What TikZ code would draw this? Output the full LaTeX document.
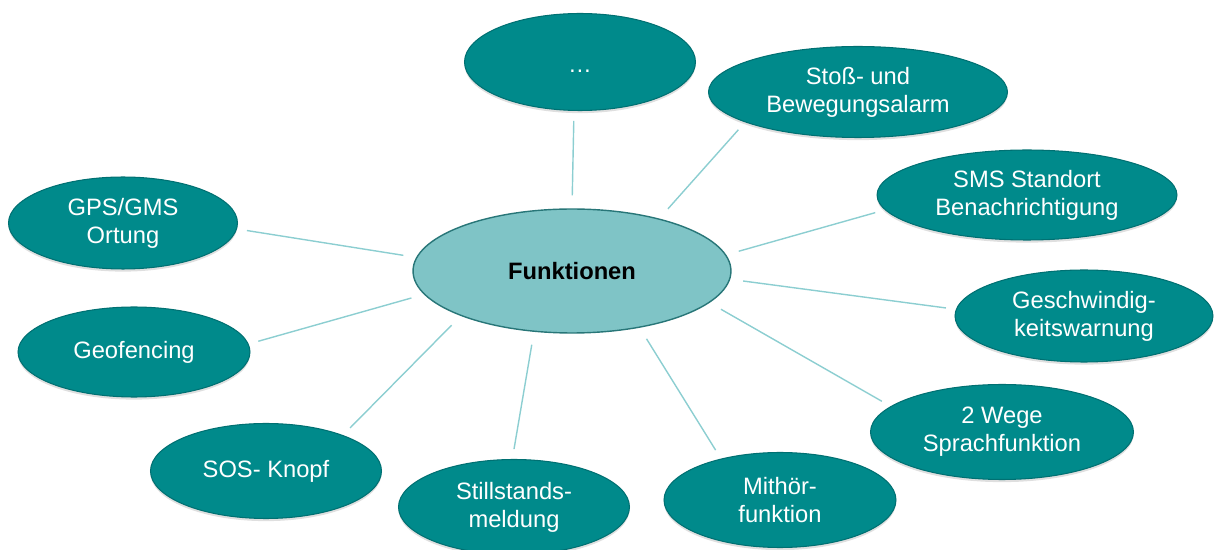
\documentclass[tikz,border=0pt]{standalone}
\usepackage{fontspec}
\setmainfont{Liberation Sans}
\definecolor{ftteal}{RGB}{0,138,139}
\definecolor{ftedge}{RGB}{0,112,114}
\definecolor{ftlight}{RGB}{127,196,198}
\definecolor{fthub}{RGB}{40,118,120}
\definecolor{ftline}{RGB}{140,206,209}
\usetikzlibrary{shapes.geometric,shadows}

\begin{document}
\begin{tikzpicture}[x=0.02cm,y=-0.02cm,
  func/.style={ellipse,draw=ftedge,line width=0.6pt,fill=ftteal,text=white,inner sep=0pt,
    minimum width=4.62cm,minimum height=1.9cm,align=center,
    font=\fontsize{13.5}{16}\selectfont,
    drop shadow={opacity=0.25,shadow xshift=0pt,shadow yshift=-1.5pt}},
  hub/.style={ellipse,draw=fthub,line width=0.8pt,fill=ftlight,inner sep=0pt,
    minimum width=6.36cm,minimum height=2.48cm,font=\fontsize{13.5}{16}\selectfont\bfseries},
  link/.style={draw=ftline,line width=0.8pt,shorten <=0.26cm,shorten >=0.2cm}
]
  \useasboundingbox (0,0) rectangle (1215,550);
  % Centre
  \node[hub] (fun) at (572,271) {Funktionen};
  % Functions, clockwise from the top
  \node[func,minimum height=1.94cm] (dots) at (580,62) {\strut\raisebox{-3pt}{…}};
  \node[func,minimum width=5.98cm,minimum height=1.82cm] (stoss) at (858,92) {Stoß- und\\Bewegungsalarm};
  \node[func,minimum width=6cm,minimum height=1.8cm] (sms) at (1027,195) {SMS Standort\\Benachrichtigung};
  \node[func,minimum width=5.16cm,minimum height=1.84cm] (speed) at (1084,316) {Geschwindig-\\keitswarnung};
  \node[func,minimum width=5.26cm] (voice) at (1002,432) {2 Wege\\Sprachfunktion};
  \node[func,minimum width=4.64cm] (listen) at (780,500) {Mithör-\\funktion};
  \node[func] (still) at (514,507) {Stillstands-\\meldung};
  \node[func] (sos) at (266,471) {SOS- Knopf};
  \node[func,minimum width=4.64cm,minimum height=1.8cm] (geo) at (134,352) {Geofencing};
  \node[func,minimum width=4.58cm,minimum height=1.84cm] (gps) at (123,223) {GPS/GMS\\Ortung};
  % Links
  \draw[link] (fun.90) -- (dots.263);
  \draw[link] (fun.31) -- (stoss.195);
  \draw[link] (fun.6) -- (sms.186);
  \draw[link] (fun.357) -- (speed.177);
  \draw[link] (fun.347) -- (voice.167);
  \draw[link] (fun.320) -- (listen.145);
  \draw[link] (fun.238) -- (still.92);
  \draw[link] (fun.202) -- (sos.25);
  \draw[link] (fun.189) -- (geo.4);
  \draw[link] (fun.175) -- (gps.357);
\end{tikzpicture}
\end{document}
